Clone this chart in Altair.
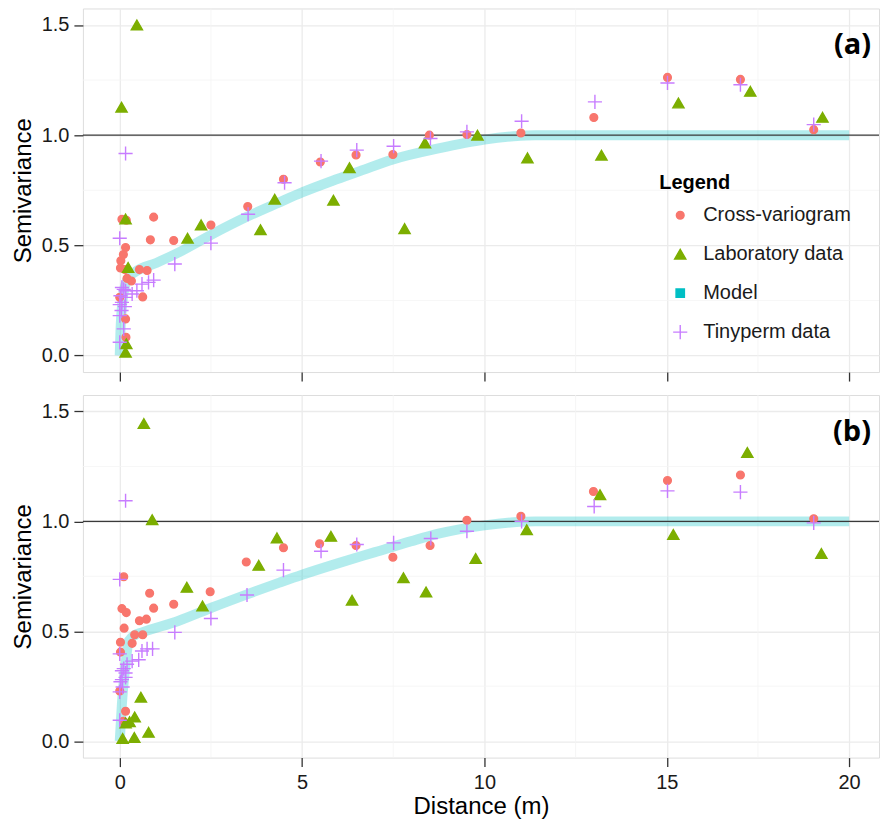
import altair as alt
import pandas as pd

# ---------------- series / styling lookups ----------------
SERIES = ["Cross-variogram", "Laboratory data", "Model", "Tinyperm data"]
COLORS = ["#F8766D", "#7CAE00", "#00BFC4", "#C77CFF"]
PLUS = "M-1,0L1,0M0,-1L0,1"
SHAPES = ["circle", "triangle-up", "square", PLUS]
SIZES = [60, 125, 70, 200]

X_TICKS = [0, 5, 10, 15, 20]
X_MINOR = [2.5, 7.5, 12.5, 17.5]
Y_TICKS = [0.0, 0.5, 1.0, 1.5]
Y_MINOR = [0.25, 0.75, 1.25]
SILL = [1.0]

# ---------------- panel (a) ----------------
a_cross_x = [0.00, 0.02, 0.03, 0.06, 0.10, 0.14, 0.16, 0.16, 0.17, 0.18, 0.20, 0.32, 0.54, 0.63,
             0.75, 0.84, 0.93, 1.48, 2.50, 3.51, 4.49, 5.50, 6.48, 7.49, 8.49, 9.52, 11.00,
             13.00, 15.02, 17.02, 19.03]
a_cross_y = [0.264, 0.397, 0.430, 0.618, 0.458, 0.390, 0.490, 0.166, 0.083, 0.614, 0.350, 0.338,
             0.390, 0.266, 0.386, 0.525, 0.628, 0.522, 0.592, 0.676, 0.800, 0.878, 0.910, 0.912,
             1.000, 1.003, 1.010, 1.080, 1.262, 1.253, 1.025]

a_lab_x = [0.05, 0.16, 0.16, 0.18, 0.23, 0.47, 1.86, 2.23, 3.86, 4.25, 5.86, 6.30, 7.81, 8.37,
           9.81, 11.18, 13.21, 15.32, 17.29, 19.27]
a_lab_y = [1.127, 0.620, 0.015, 0.053, 0.400, 1.500, 0.532, 0.593, 0.571, 0.709, 0.705, 0.852,
           0.576, 0.965, 1.000, 0.897, 0.909, 1.146, 1.199, 1.081]

a_tiny_x = [0.00, 0.16, 0.00, 0.11, 0.00, 0.05, 0.14, 0.00, 0.06, 0.16, 0.02, 0.06, 0.16, 0.11,
            0.34, 0.47, 0.61, 0.79, 0.93, 1.51, 2.50, 3.52, 4.52, 5.52, 6.50, 7.51, 8.52, 9.52,
            11.02, 13.03, 15.02, 17.02, 19.03]
a_tiny_y = [0.532, 0.917, 0.060, 0.121, 0.181, 0.204, 0.222, 0.231, 0.241, 0.264, 0.271, 0.309,
            0.294, 0.300, 0.279, 0.294, 0.324, 0.332, 0.342, 0.415, 0.510, 0.641, 0.784, 0.882,
            0.932, 0.950, 0.985, 1.015, 1.063, 1.151, 1.237, 1.229, 1.048]

a_model_x = [0.0, 0.02, 0.11, 0.25, 0.43, 1.0, 1.62, 2.53, 3.44, 4.36, 5.0, 5.82, 6.6, 7.49,
             8.74, 10.0, 10.8, 11.4, 20.0]
a_model_y = [0.0, 0.11, 0.29, 0.355, 0.38, 0.42, 0.468, 0.55, 0.626, 0.694, 0.74, 0.792, 0.838,
             0.89, 0.94, 0.98, 0.995, 1.0, 1.0]

# ---------------- panel (b) ----------------
b_cross_x = [0.00, 0.02, 0.02, 0.06, 0.11, 0.12, 0.16, 0.10, 0.18, 0.34, 0.41, 0.54, 0.63, 0.73,
             0.82, 0.93, 1.48, 2.48, 3.47, 4.49, 5.48, 6.48, 7.49, 8.51, 9.52, 11.00, 12.99,
             15.02, 17.02, 19.03]
b_cross_y = [0.228, 0.450, 0.405, 0.603, 0.748, 0.514, 0.136, 0.090, 0.585, 0.445, 0.484, 0.548,
             0.484, 0.555, 0.673, 0.605, 0.623, 0.680, 0.815, 0.880, 0.898, 0.890, 0.837, 0.890,
             1.005, 1.023, 1.136, 1.186, 1.211, 1.012]

b_lab_x = [0.08, 0.16, 0.27, 0.40, 0.41, 0.58, 0.66, 0.79, 0.89, 1.84, 2.27, 3.81, 4.31, 5.79,
           6.37, 7.78, 8.40, 9.76, 11.16, 13.17, 15.18, 17.21, 19.24]
b_lab_y = [0.012, 0.083, 0.088, 0.017, 0.110, 0.200, 1.445, 0.040, 1.008, 0.700, 0.615, 0.800,
           0.925, 0.932, 0.641, 0.744, 0.679, 0.831, 0.962, 1.121, 0.940, 1.314, 0.854]

b_tiny_x = [0.00, 0.16, 0.00, 0.00, 0.08, 0.02, 0.16, 0.06, 0.20, 0.00, 0.11, 0.16, 0.06, 0.34,
            0.52, 0.61, 0.75, 0.90, 1.51, 2.50, 3.49, 4.49, 5.52, 6.50, 7.51, 8.53, 9.52, 11.02,
            13.01, 15.02, 17.02, 19.03]
b_tiny_y = [0.736, 1.094, 0.095, 0.224, 0.246, 0.270, 0.290, 0.320, 0.350, 0.397, 0.330, 0.310,
            0.280, 0.364, 0.370, 0.410, 0.420, 0.420, 0.495, 0.558, 0.665, 0.778, 0.864, 0.895,
            0.902, 0.922, 0.955, 1.000, 1.068, 1.139, 1.133, 0.993]

b_model_x = [0.0, 0.06, 0.16, 0.25, 0.43, 0.61, 1.62, 2.53, 3.49, 4.36, 5.0, 6.0, 7.0, 8.0,
             8.74, 10.0, 10.8, 11.4, 20.0]
b_model_y = [0.0, 0.17, 0.35, 0.457, 0.484, 0.495, 0.548, 0.608, 0.668, 0.72, 0.757, 0.81,
             0.86, 0.91, 0.944, 0.982, 0.996, 1.0, 1.0]

PANEL_LABELS = ["(a)", "(b)"]

# ---------------- helpers ----------------
FONT = "Liberation Sans"
XS = alt.Scale(domain=[-1.01, 20.82], nice=False, zero=False)
YS = alt.Scale(domain=[-0.075, 1.575], nice=False, zero=False)
W, H = 797, 364


def points_frame(cx, cy, lx, ly, tx, ty):
    rows = []
    for name, xs, ys in ((SERIES[0], cx, cy), (SERIES[1], lx, ly), (SERIES[3], tx, ty)):
        for xv, yv in zip(xs, ys):
            rows.append({"series": name, "x": xv, "y": yv})
    df = pd.DataFrame(rows)
    df["ord"] = range(len(df))
    return df


def x_axis(bottom):
    common = dict(values=X_TICKS, grid=True, gridColor="#EBEBEB", gridWidth=1.3, domain=False,
                  ticks=True, tickSize=9, tickColor="#333333", tickWidth=1.3)
    if bottom:
        return alt.Axis(title="Distance (m)", labels=True, labelFontSize=20, labelColor="#1a1a1a",
                        labelPadding=6, titleFontSize=24, titleFontWeight="normal",
                        titleColor="#000000", titlePadding=2, labelFont=FONT, titleFont=FONT,
                        **common)
    return alt.Axis(title=None, labels=False, **common)


def y_axis():
    return alt.Axis(values=Y_TICKS, format=".1f", grid=True, gridColor="#EBEBEB", gridWidth=1.3,
                    domain=False, tickSize=9, tickColor="#333333", tickWidth=1.3,
                    labelFontSize=20, labelColor="#1a1a1a", labelPadding=5,
                    title="Semivariance", titleFontSize=24, titleFontWeight="normal",
                    titleColor="#000000", titlePadding=6, labelFont=FONT, titleFont=FONT)


def panel(pts, mx, my, label, bottom, show_legend):
    xa = x_axis(bottom)
    ya = y_axis()
    xenc = lambda: alt.X("x:Q", scale=XS, axis=xa)
    yenc = lambda: alt.Y("y:Q", scale=YS, axis=ya)

    minor_x = alt.Chart(pd.DataFrame({"x": X_MINOR})).mark_rule(
        color="#F4F4F4", strokeWidth=0.8).encode(x=xenc())
    minor_y = alt.Chart(pd.DataFrame({"y": Y_MINOR})).mark_rule(
        color="#F4F4F4", strokeWidth=0.8).encode(y=yenc())

    model = alt.Chart(pd.DataFrame({"x": mx, "y": my})).mark_line(
        color="#00BFC4", opacity=0.3, strokeWidth=10, strokeCap="butt", strokeJoin="round",
        interpolate="monotone"
    ).encode(x=xenc(), y=yenc(), order="x:Q")

    sill = alt.Chart(pd.DataFrame({"y": SILL})).mark_rule(
        color="#3a3a3a", strokeWidth=1.1).encode(y=yenc())

    if show_legend:
        leg = alt.Legend(title="Legend", orient="none", legendX=577, legendY=165,
                         titleFontSize=20, titleFontWeight="bold", titleColor="#000000",
                         titleFont=FONT, labelFont=FONT, labelFontSize=20,
                         labelColor="#1a1a1a", labelOffset=13, rowPadding=19,
                         titlePadding=12, padding=0, symbolOffset=11, symbolStrokeWidth=1.4)
    else:
        leg = None

    sc = dict(domain=SERIES)
    pts_layer = alt.Chart(pts).mark_point(filled=True, opacity=1, strokeWidth=1.4).encode(
        x=xenc(), y=yenc(),
        fill=alt.Fill("series:N", scale=alt.Scale(range=COLORS, **sc), legend=leg),
        stroke=alt.Stroke("series:N", scale=alt.Scale(range=COLORS, **sc), legend=leg),
        shape=alt.Shape("series:N", scale=alt.Scale(range=SHAPES, **sc), legend=leg),
        size=alt.Size("series:N", scale=alt.Scale(type="ordinal", range=SIZES, **sc), legend=leg),
        order="ord:Q",
    )

    tag = alt.Chart(pd.DataFrame({"t": [label]})).mark_text(
        align="right", baseline="middle", fontSize=29, fontWeight="bold", font="Open Sans",
        color="#000000"
    ).encode(text="t:N", x=alt.value(789), y=alt.value(37))

    return alt.layer(minor_x, minor_y, model, sill, pts_layer, tag).properties(width=W, height=H)


pa = points_frame(a_cross_x, a_cross_y, a_lab_x, a_lab_y, a_tiny_x, a_tiny_y)
pb = points_frame(b_cross_x, b_cross_y, b_lab_x, b_lab_y, b_tiny_x, b_tiny_y)

top = panel(pa, a_model_x, a_model_y, PANEL_LABELS[0], False, True)
bot = panel(pb, b_model_x, b_model_y, PANEL_LABELS[1], True, False).properties(height=363)

chart = alt.vconcat(top, bot, spacing=11).properties(
    padding={"left": 10, "top": 7, "right": 0, "bottom": 2}
).configure_view(stroke="#9A9A9A", strokeWidth=1.5).configure(font=FONT, background="white")

chart.save("out.html", embed_options={"renderer": "svg", "actions": False})
